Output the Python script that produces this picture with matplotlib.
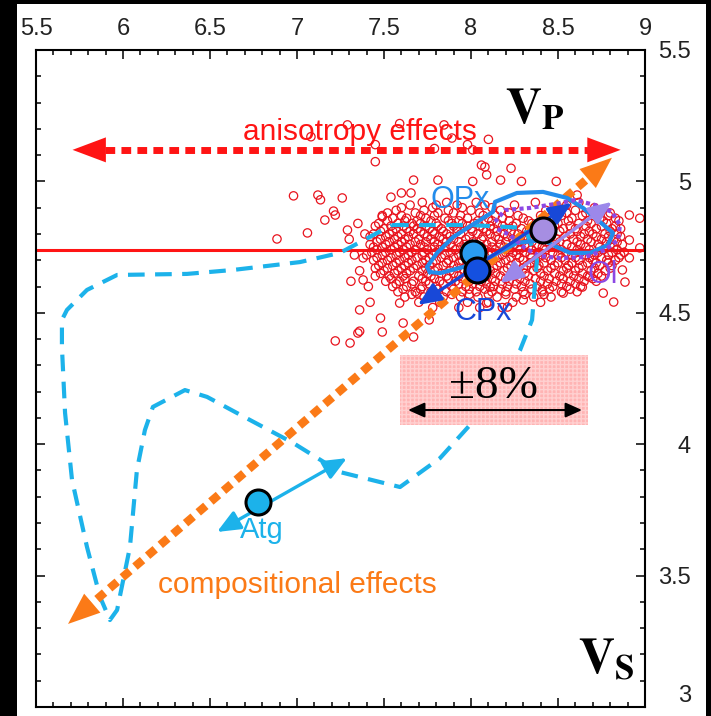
import numpy as np
import matplotlib.pyplot as plt
from matplotlib.patches import Rectangle
from matplotlib.ticker import MultipleLocator

plt.rcParams['font.family'] = ['Liberation Sans', 'DejaVu Sans']
plt.rcParams['mathtext.fontset'] = 'stix'

# axes
x_ticks = [5.5, 6, 6.5, 7, 7.5, 8, 8.5, 9]
x_labels = ['5.5', '6', '6.5', '7', '7.5', '8', '8.5', '9']
y_ticks = [3, 3.5, 4, 4.5, 5, 5.5]
y_labels = ['3', '3.5', '4', '4.5', '5', '5.5']

ref_level = 4.74

# measured samples: dense core given row by row (y -> list of x)
core_y = [4.92, 4.90, 4.88, 4.86, 4.84, 4.82, 4.80, 4.78, 4.76, 4.74, 4.72,
          4.70, 4.68, 4.66, 4.64, 4.62, 4.60, 4.58, 4.56, 4.54, 4.52]
core_x = [
    [7.72, 7.86, 8.03, 8.37, 8.62],
    [7.60, 7.78, 7.95, 8.12, 8.48, 8.71],
    [7.52, 7.68, 7.81, 7.90, 8.05, 8.22, 8.55, 8.66, 8.80],
    [7.55, 7.63, 7.74, 7.85, 7.98, 8.10, 8.18, 8.30, 8.45, 8.58, 8.74, 8.83],
    [7.47, 7.58, 7.66, 7.71, 7.80, 7.89, 7.95, 8.02, 8.15, 8.26, 8.35, 8.50, 8.62, 8.69, 8.78],
    [7.50, 7.57, 7.63, 7.69, 7.76, 7.83, 7.92, 8.00, 8.07, 8.13, 8.21, 8.29, 8.41, 8.53, 8.60, 8.72, 8.81, 8.86],
    [7.44, 7.53, 7.60, 7.67, 7.73, 7.79, 7.86, 7.94, 8.04, 8.11, 8.19, 8.27, 8.36, 8.45, 8.57, 8.65, 8.70, 8.77, 8.84],
    [7.48, 7.56, 7.62, 7.70, 7.77, 7.84, 7.90, 7.97, 8.06, 8.16, 8.24, 8.33, 8.40, 8.49, 8.59, 8.67, 8.75, 8.82],
    [7.42, 7.51, 7.58, 7.65, 7.71, 7.81, 7.88, 7.96, 8.03, 8.09, 8.17, 8.25, 8.31, 8.38, 8.47, 8.55, 8.63, 8.73, 8.80, 8.87],
    [7.46, 7.54, 7.61, 7.68, 7.75, 7.82, 7.91, 7.99, 8.08, 8.14, 8.22, 8.28, 8.35, 8.43, 8.52, 8.61, 8.68, 8.76, 8.84],
    [7.40, 7.49, 7.57, 7.64, 7.72, 7.78, 7.85, 7.93, 8.01, 8.10, 8.18, 8.26, 8.34, 8.41, 8.50, 8.58, 8.66, 8.71, 8.79, 8.86],
    [7.44, 7.52, 7.59, 7.66, 7.74, 7.80, 7.87, 7.95, 8.05, 8.12, 8.20, 8.30, 8.37, 8.46, 8.54, 8.62, 8.70, 8.78, 8.83],
    [7.47, 7.55, 7.62, 7.69, 7.76, 7.84, 7.90, 7.98, 8.07, 8.15, 8.23, 8.32, 8.39, 8.48, 8.56, 8.64, 8.74, 8.81],
    [7.50, 7.58, 7.65, 7.72, 7.79, 7.88, 7.96, 8.03, 8.11, 8.19, 8.27, 8.36, 8.44, 8.53, 8.60, 8.69, 8.77],
    [7.45, 7.53, 7.61, 7.70, 7.77, 7.86, 7.93, 8.00, 8.09, 8.17, 8.25, 8.33, 8.42, 8.51, 8.59, 8.67, 8.75],
    [7.51, 7.59, 7.67, 7.74, 7.82, 7.91, 7.99, 8.06, 8.14, 8.22, 8.31, 8.40, 8.49, 8.57, 8.65, 8.72],
    [7.55, 7.63, 7.72, 7.80, 7.89, 7.97, 8.05, 8.13, 8.21, 8.29, 8.38, 8.47, 8.55, 8.63],
    [7.58, 7.68, 7.77, 7.86, 7.95, 8.03, 8.12, 8.20, 8.30, 8.41, 8.52, 8.61],
    [7.62, 7.73, 7.84, 7.94, 8.04, 8.15, 8.26, 8.36, 8.46],
    [7.70, 7.82, 7.98, 8.10, 8.24, 8.40],
    [7.78, 7.93, 8.05, 8.18],
]
# second pass over the core, rows in between
core2_y = [4.91, 4.89, 4.87, 4.85, 4.83, 4.81, 4.79, 4.77, 4.75, 4.73, 4.71,
           4.69, 4.67, 4.65, 4.63, 4.61, 4.59, 4.57]
core2_x = [
    [7.65, 7.80, 7.92, 8.08, 8.25, 8.55],
    [7.57, 7.73, 7.87, 8.00, 8.17, 8.43, 8.60, 8.75],
    [7.49, 7.60, 7.71, 7.79, 7.94, 8.07, 8.14, 8.27, 8.40, 8.52, 8.64, 8.79],
    [7.52, 7.62, 7.69, 7.77, 7.87, 7.93, 8.04, 8.12, 8.22, 8.33, 8.47, 8.56, 8.67, 8.76, 8.85],
    [7.45, 7.54, 7.61, 7.67, 7.74, 7.81, 7.90, 7.98, 8.05, 8.11, 8.18, 8.24, 8.38, 8.48, 8.57, 8.66, 8.75, 8.83],
    [7.48, 7.55, 7.65, 7.71, 7.78, 7.84, 7.92, 8.01, 8.09, 8.15, 8.23, 8.32, 8.40, 8.51, 8.61, 8.68, 8.80],
    [7.42, 7.51, 7.58, 7.64, 7.75, 7.82, 7.88, 7.99, 8.07, 8.14, 8.21, 8.30, 8.38, 8.46, 8.54, 8.63, 8.72, 8.79, 8.86],
    [7.46, 7.53, 7.60, 7.68, 7.74, 7.79, 7.86, 7.93, 8.01, 8.12, 8.20, 8.28, 8.35, 8.43, 8.51, 8.61, 8.69, 8.78, 8.84],
    [7.44, 7.49, 7.56, 7.63, 7.73, 7.79, 7.85, 7.94, 8.00, 8.06, 8.12, 8.19, 8.27, 8.33, 8.41, 8.49, 8.58, 8.66, 8.74, 8.82],
    [7.43, 7.51, 7.59, 7.66, 7.73, 7.80, 7.88, 7.96, 8.04, 8.12, 8.20, 8.24, 8.31, 8.39, 8.47, 8.55, 8.63, 8.73, 8.81, 8.88],
    [7.46, 7.54, 7.62, 7.69, 7.76, 7.83, 7.90, 7.98, 8.07, 8.15, 8.23, 8.28, 8.35, 8.43, 8.52, 8.60, 8.68, 8.75, 8.85],
    [7.49, 7.57, 7.64, 7.72, 7.78, 7.86, 7.93, 8.01, 8.09, 8.17, 8.26, 8.34, 8.42, 8.50, 8.58, 8.67, 8.72, 8.79],
    [7.45, 7.52, 7.60, 7.67, 7.74, 7.81, 7.92, 7.99, 8.05, 8.13, 8.21, 8.30, 8.38, 8.46, 8.55, 8.62, 8.71, 8.80],
    [7.48, 7.56, 7.63, 7.75, 7.83, 7.90, 7.98, 8.06, 8.14, 8.23, 8.31, 8.40, 8.48, 8.56, 8.64, 8.73],
    [7.54, 7.62, 7.72, 7.79, 7.87, 7.95, 8.03, 8.12, 8.20, 8.28, 8.37, 8.45, 8.53, 8.62, 8.70],
    [7.57, 7.66, 7.76, 7.84, 7.93, 8.01, 8.09, 8.18, 8.26, 8.34, 8.44, 8.52, 8.60],
    [7.61, 7.71, 7.81, 7.90, 7.99, 8.08, 8.17, 8.25, 8.35, 8.45, 8.57],
    [7.66, 7.79, 7.89, 7.99, 8.10, 8.20, 8.31, 8.42],
]
# scattered samples around the core
out_x = [7.08, 7.29, 7.45, 7.45, 7.59, 7.845, 7.89, 7.98, 8.01, 8.10, 7.79, 8.08, 8.23, 8.09,
         7.67, 7.81, 8.01, 8.17, 8.29, 8.49, 6.98, 7.12, 7.26, 7.54, 7.60, 7.655, 7.135,
         7.21, 7.22, 7.16, 7.29, 7.06, 6.885, 7.22, 7.305, 7.35, 7.49, 7.38, 8.06, 8.61,
         8.91, 8.97, 8.91, 8.97, 8.91, 8.87, 8.885, 7.38, 7.36, 7.48, 7.59, 7.49, 7.36,
         7.61, 7.69, 7.76, 7.67, 8.21, 8.30, 8.41, 8.53, 8.64, 8.76, 8.82, 8.68, 8.11, 8.09,
         7.30, 7.33, 7.36, 7.39, 7.41, 7.35, 7.42, 7.31]
out_y = [5.17, 5.215, 5.14, 5.075, 5.22, 5.215, 5.165, 5.14, 5.12, 5.16, 5.125, 5.055, 5.05, 5.025,
         5.005, 5.005, 5.0, 5.005, 5.0, 5.0, 4.945, 4.948, 4.937, 4.94, 4.956, 4.956, 4.93,
         4.887, 4.872, 4.853, 4.815, 4.804, 4.781, 4.393, 4.385, 4.423, 4.865, 4.709, 5.062, 4.948,
         4.872, 4.86, 4.777, 4.747, 4.709, 4.663, 4.617, 4.625, 4.511, 4.48, 4.537, 4.427, 4.43,
         4.461, 4.575, 4.473, 4.408, 4.522, 4.549, 4.587, 4.575, 4.598, 4.575, 4.541, 4.636, 4.598, 4.537,
         4.78, 4.72, 4.66, 4.80, 4.60, 4.84, 4.54, 4.62]

# dashed path (cyan)
path_x = [7.546, 7.994, 8.310, 8.379, 8.351, 8.282, 8.138, 7.994, 7.822, 7.592, 7.247, 6.977,
          6.730, 6.483, 6.356, 6.172, 6.126, 6.080, 6.040, 5.966, 5.925, 5.868, 5.793, 5.707,
          5.667, 5.649, 5.649, 5.678, 5.793, 5.966, 6.368, 6.632, 7.017, 7.247, 7.546]
path_y = [4.834, 4.834, 4.823, 4.701, 4.473, 4.358, 4.206, 4.073, 3.947, 3.837, 3.894, 4.005,
          4.092, 4.180, 4.206, 4.142, 4.054, 3.902, 3.609, 3.369, 3.331, 3.419, 3.609, 3.864,
          4.119, 4.370, 4.473, 4.511, 4.587, 4.644, 4.648, 4.663, 4.693, 4.728, 4.834]

# OPx loop
opx_x = [7.764, 7.747, 7.805, 7.897, 8.034, 8.126, 8.138, 8.264, 8.414, 8.552, 8.644, 8.741,
         8.816, 8.787, 8.684, 8.569, 8.494, 8.414, 8.264, 8.109, 7.954, 7.822, 7.764]
opx_y = [4.655, 4.674, 4.728, 4.788, 4.846, 4.884, 4.922, 4.956, 4.960, 4.937, 4.899, 4.846,
         4.804, 4.758, 4.728, 4.728, 4.750, 4.777, 4.766, 4.712, 4.674, 4.651, 4.655]

# Ol loop
ol_x = [8.138, 8.195, 8.339, 8.483, 8.598, 8.713, 8.810, 8.856, 8.845, 8.770, 8.655, 8.511,
        8.397, 8.310, 8.224, 8.138]
ol_y = [4.846, 4.891, 4.899, 4.914, 4.929, 4.910, 4.884, 4.834, 4.777, 4.739, 4.712, 4.708,
        4.716, 4.746, 4.796, 4.823]

# arrows (tail, tip)
anis_x = [5.71, 8.86]
anis_y = [5.12, 5.12]
comp_x = [5.684, 8.81]
comp_y = [3.316, 5.09]
px_arrow_x = [7.695, 8.580]
px_arrow_y = [4.530, 4.918]
ol_arrow_x = [8.167, 8.810]
ol_arrow_y = [4.613, 4.922]
atg_arrow_x = [6.540, 7.287]
atg_arrow_y = [3.666, 3.947]
pm_arrow_x = [7.638, 8.638]
pm_arrow_y = 4.130

# minerals
opx_pt = (8.011, 4.728)
cpx_pt = (8.034, 4.663)
ol_pt = (8.414, 4.815)
atg_pt = (6.776, 3.780)

box_x = [7.592, 8.672]
box_y = [4.073, 4.339]

RED = '#ff1414'
ORANGE = '#fb7a17'
CYAN = '#1cb2ea'
OPX_C = '#238ceb'
CPX_C = '#1848d8'
VIOLET = '#8c48e4'

fig = plt.figure(figsize=(7.11, 7.16), dpi=100, facecolor='black')
fig.patches.append(Rectangle((17 / 711, 0), 689 / 711, 712 / 716, transform=fig.transFigure,
                             facecolor='white', edgecolor='none', zorder=-5))
ax = fig.add_axes([36 / 711, 9 / 716, 609 / 711, 657 / 716])
ax.set_zorder(2)
ax.set_xlim(5.5, 9)
ax.set_ylim(3, 5.5)

ax.axhline(ref_level, color=RED, lw=2.2, zorder=1)

cx = [x for row in core_x + core2_x for x in row]
cy = [y for y, row in zip(core_y + core2_y, core_x + core2_x) for _ in row]
ax.scatter(cx + out_x, cy + out_y, s=36, facecolors='none', edgecolors='#e8141e',
           linewidths=0.9, zorder=2)

ax.plot(path_x, path_y, color=CYAN, lw=3, linestyle=(0, (4, 2.5)), zorder=3)

ax.add_patch(Rectangle((box_x[0], box_y[0]), box_x[1] - box_x[0], box_y[1] - box_y[0],
                       facecolor='#ffb4b4', edgecolor='#ffd0d0', hatch='++++', lw=0, zorder=4))
ax.annotate('', xy=(pm_arrow_x[1], pm_arrow_y), xytext=(pm_arrow_x[0], pm_arrow_y),
            arrowprops=dict(arrowstyle='<|-|>,head_length=10,head_width=4.5', color='black',
                            lw=1.5, shrinkA=0, shrinkB=0, mutation_scale=1), zorder=5)
ax.text(np.mean(box_x), 4.218, '±8%', family='Liberation Serif', fontsize=34,
        ha='center', va='center', zorder=5)


def head(xs, ys, color, length, width, z):
    # filled head at the end of the (xs, ys) segment, pointing to the last point
    base = (xs[1] - 0.02 * (xs[1] - xs[0]), ys[1] - 0.02 * (ys[1] - ys[0]))
    ax.annotate('', xy=(xs[1], ys[1]), xytext=base,
                arrowprops=dict(arrowstyle=f'-|>,head_length={length},head_width={width}',
                                color=color, lw=0, shrinkA=0, shrinkB=0, mutation_scale=1),
                zorder=z)


def inner(xs, ys, f):
    return ([xs[0] + f * (xs[1] - xs[0]), xs[1] - f * (xs[1] - xs[0])],
            [ys[0] + f * (ys[1] - ys[0]), ys[1] - f * (ys[1] - ys[0])])


lx, ly = inner(comp_x, comp_y, 0.03)
ax.plot(lx, ly, color=ORANGE, lw=6, linestyle=(0, (1.2, 0.8)), zorder=6)
head(comp_x, comp_y, ORANGE, 23, 9, 6)
head(comp_x[::-1], comp_y[::-1], ORANGE, 23, 9, 6)

lx, ly = inner(anis_x, anis_y, 0.03)
ax.plot(lx, ly, color=RED, lw=5, linestyle=(0, (1.4, 0.9)), zorder=6)
head(anis_x, anis_y, RED, 24, 9, 6)
head(anis_x[::-1], anis_y[::-1], RED, 24, 9, 6)

ax.plot(opx_x, opx_y, color=OPX_C, lw=3, zorder=7)
ax.plot(ol_x, ol_y, color=VIOLET, lw=3, linestyle=(0, (1, 0.8)), zorder=7)

for xs, ys, c in [(px_arrow_x, px_arrow_y, CPX_C), (ol_arrow_x, ol_arrow_y, '#9c88ea'),
                  (atg_arrow_x, atg_arrow_y, CYAN)]:
    ax.annotate('', xy=(xs[1], ys[1]), xytext=(xs[0], ys[0]),
                arrowprops=dict(arrowstyle='<|-|>,head_length=14,head_width=6', color=c,
                                lw=2.4, shrinkA=0, shrinkB=0, mutation_scale=1), zorder=8)

for pt, c in [(opx_pt, '#2a9cf0'), (cpx_pt, '#1450e0'), (ol_pt, '#a68ee2'), (atg_pt, '#1cb2ea')]:
    ax.plot(pt[0], pt[1], 'o', ms=18, mfc=c, mec='black', mew=2.2, zorder=9)

ax.text(7.362, 5.188, 'anisotropy effects', color=RED, fontsize=21.5, ha='center', va='center', zorder=10)
ax.text(7.0, 3.464, 'compositional effects', color=ORANGE, fontsize=21.5, ha='center', va='center', zorder=10)
ax.text(7.937, 4.929, 'OPx', color=OPX_C, fontsize=22, ha='center', va='center', zorder=10)
ax.text(8.069, 4.503, 'CPx', color=CPX_C, fontsize=22, ha='center', va='center', zorder=10)
ax.text(8.759, 4.644, 'Ol', color=VIOLET, fontsize=22, ha='center', va='center', zorder=10)
ax.text(6.799, 3.674, 'Atg', color=CYAN, fontsize=21, ha='center', va='center', zorder=10)
ax.text(8.195, 5.222, r'$\mathbf{V_P}$', fontsize=36, ha='left', va='baseline', zorder=10)
ax.text(8.615, 3.126, r'$\mathbf{V_S}$', fontsize=36, ha='left', va='baseline', zorder=10)

ax.xaxis.tick_top()
ax.yaxis.tick_right()
ax.set_xticks(x_ticks)
ax.set_xticklabels(x_labels)
ax.set_yticks(y_ticks)
ax.set_yticklabels(y_labels)
ax.xaxis.set_minor_locator(MultipleLocator(0.1))
ax.yaxis.set_minor_locator(MultipleLocator(0.1))
ax.tick_params(which='both', direction='in', top=True, bottom=True, left=True, right=True,
               labeltop=True, labelbottom=False, labelleft=False, labelright=True,
               width=1.1, colors='black', labelcolor='#222222', labelsize=17)
ax.tick_params(which='major', length=6.5)
ax.tick_params(which='minor', length=3.5)
ax.tick_params(axis='x', pad=7)
ax.tick_params(axis='y', pad=33)
for t in ax.get_yticklabels():
    t.set_ha('right')
    t.set_va('bottom' if t.get_text() == '3' else 'center_baseline')
for s in ax.spines.values():
    s.set_linewidth(1.5)

fig.savefig('out.png', dpi=100, facecolor=fig.get_facecolor())
